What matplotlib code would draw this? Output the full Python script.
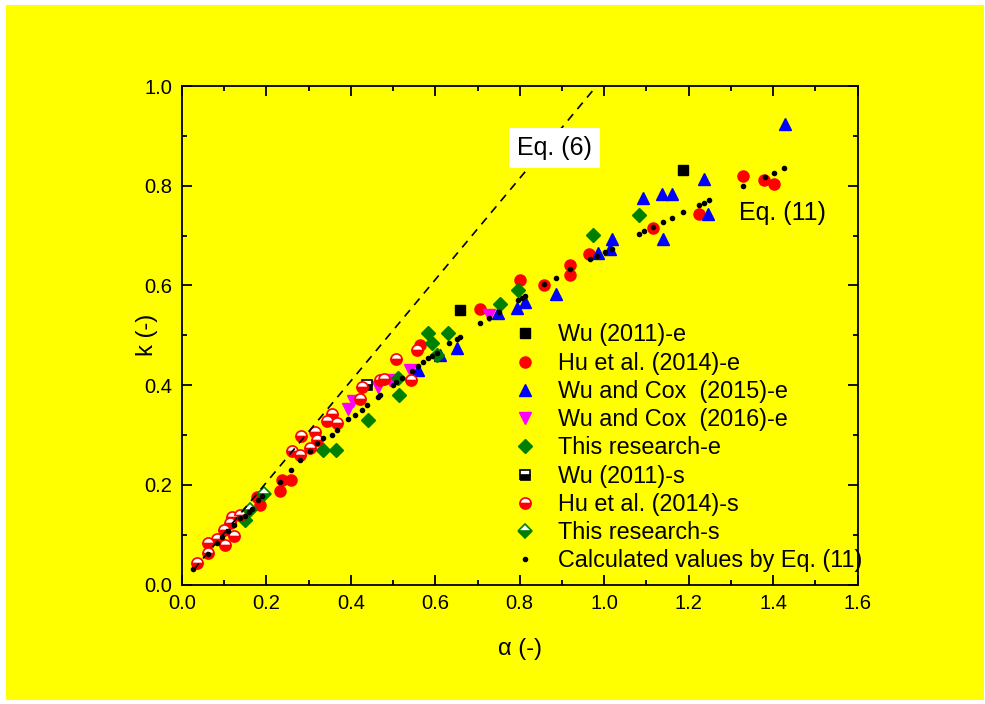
import matplotlib
matplotlib.use("Agg")
import matplotlib.pyplot as plt
from matplotlib.patches import Rectangle

plt.rcParams['font.family'] = ['Liberation Sans', 'DejaVu Sans']

# ---- data ----
wu_e_x = [0.658, 1.187]
wu_e_y = [0.551, 0.831]

hu_e_x = [0.177, 0.185, 0.232, 0.236, 0.258, 0.564, 0.707, 0.800, 0.858, 0.919, 0.919,
          0.965, 1.115, 1.225, 1.328, 1.379, 1.402]
hu_e_y = [0.176, 0.159, 0.187, 0.210, 0.210, 0.480, 0.552, 0.611, 0.601, 0.641, 0.621,
          0.663, 0.715, 0.743, 0.820, 0.811, 0.803]

wc15_x = [0.560, 0.610, 0.651, 0.749, 0.793, 0.812, 0.885, 0.986, 1.014, 1.019,
          1.093, 1.138, 1.160, 1.140, 1.236, 1.247, 1.428]
wc15_y = [0.430, 0.460, 0.474, 0.544, 0.554, 0.567, 0.583, 0.664, 0.674, 0.694,
          0.775, 0.783, 0.783, 0.693, 0.813, 0.743, 0.924]

wc16_x = [0.394, 0.404, 0.465, 0.493, 0.540, 0.726]
wc16_y = [0.352, 0.368, 0.397, 0.410, 0.430, 0.540]

tr_e_x = [0.149, 0.335, 0.365, 0.441, 0.515, 0.512, 0.583, 0.591, 0.603, 0.631,
          0.753, 0.797, 0.974, 1.082]
tr_e_y = [0.129, 0.270, 0.270, 0.330, 0.380, 0.414, 0.504, 0.484, 0.460, 0.504,
          0.563, 0.591, 0.701, 0.741]

wu_s_x = [0.438]
wu_s_y = [0.400]

hu_s_x = [0.035, 0.061, 0.062, 0.082, 0.102, 0.100, 0.122, 0.114, 0.118, 0.137,
          0.260, 0.283, 0.280, 0.303, 0.315, 0.319, 0.343, 0.355, 0.366, 0.422,
          0.426, 0.469, 0.478, 0.542, 0.506, 0.556]
hu_s_y = [0.044, 0.063, 0.083, 0.091, 0.079, 0.109, 0.097, 0.123, 0.136, 0.139,
          0.268, 0.298, 0.260, 0.273, 0.305, 0.290, 0.327, 0.343, 0.323, 0.373,
          0.397, 0.410, 0.413, 0.410, 0.452, 0.470]

tr_s_x = [0.161, 0.194]
tr_s_y = [0.149, 0.182]

calc_x = [0.027, 0.061, 0.082, 0.095, 0.108, 0.122, 0.137, 0.149, 0.159, 0.165,
          0.181, 0.190, 0.232, 0.258, 0.279, 0.303, 0.319, 0.335, 0.355, 0.366,
          0.394, 0.410, 0.426, 0.439, 0.465, 0.469, 0.500, 0.508, 0.520, 0.544,
          0.560, 0.572, 0.583, 0.591, 0.603, 0.633, 0.651, 0.658, 0.707, 0.726,
          0.752, 0.797, 0.805, 0.812, 0.858, 0.885, 0.919, 0.966, 0.982, 1.002,
          1.018, 1.083, 1.095, 1.115, 1.140, 1.160, 1.187, 1.225, 1.236, 1.248,
          1.328, 1.382, 1.402, 1.427]
calc_y = [0.032, 0.062, 0.083, 0.095, 0.107, 0.119, 0.133, 0.138, 0.146, 0.152,
          0.170, 0.178, 0.206, 0.230, 0.250, 0.268, 0.283, 0.293, 0.300, 0.310,
          0.331, 0.340, 0.351, 0.360, 0.377, 0.380, 0.400, 0.407, 0.414, 0.429,
          0.438, 0.447, 0.454, 0.458, 0.465, 0.484, 0.492, 0.497, 0.524, 0.534,
          0.547, 0.571, 0.574, 0.579, 0.602, 0.615, 0.632, 0.652, 0.659, 0.668,
          0.674, 0.704, 0.709, 0.717, 0.727, 0.736, 0.747, 0.761, 0.766, 0.771,
          0.799, 0.818, 0.826, 0.835]

eq6_x = [0.027, 0.982]
eq6_y = [0.029, 1.000]

x_ticks = [0.0, 0.2, 0.4, 0.6, 0.8, 1.0, 1.2, 1.4, 1.6]
y_ticks = [0.0, 0.2, 0.4, 0.6, 0.8, 1.0]

YELLOW = '#FFFF00'
RED = '#FF0000'
BLUE = '#0000FF'
MAG = '#FF00FF'
GREEN = '#008000'

fig = plt.figure(figsize=(9.85, 7.04), dpi=100)
fig.patch.set_facecolor('white')
fig.patches.append(Rectangle((6/985, 4/704), 978/985, 695/704, transform=fig.transFigure,
                             facecolor=YELLOW, edgecolor='none', zorder=-10))

ax = fig.add_axes([182/985, 1 - 584.5/704, 675.5/985, 498.5/704])
ax.set_facecolor(YELLOW)

ms_c = 8.0
ax.plot(wu_e_x, wu_e_y, ls='none', marker='s', ms=7.0, mfc='black', mec='black',
        label='Wu (2011)-e', zorder=3)
ax.plot(hu_e_x, hu_e_y, ls='none', marker='o', ms=ms_c, mfc=RED, mec=RED,
        label='Hu et al. (2014)-e', zorder=3)
ax.plot(wc15_x, wc15_y, ls='none', marker='^', ms=9.0, mfc=BLUE, mec=BLUE,
        label='Wu and Cox  (2015)-e', zorder=3)
ax.plot(wc16_x, wc16_y, ls='none', marker='v', ms=9.0, mfc=MAG, mec=MAG,
        label='Wu and Cox  (2016)-e', zorder=3)
ax.plot(tr_e_x, tr_e_y, ls='none', marker='D', ms=7.5, mfc=GREEN, mec=GREEN,
        label='This research-e', zorder=3)
ax.plot(wu_s_x, wu_s_y, ls='none', marker='s', ms=7.0, mfc='black', mec='black',
        fillstyle='bottom', markerfacecoloralt='white', mew=1.2,
        label='Wu (2011)-s', zorder=3)
ax.plot(hu_s_x, hu_s_y, ls='none', marker='o', ms=ms_c, mfc=RED, mec=RED,
        fillstyle='bottom', markerfacecoloralt='white', mew=1.2,
        label='Hu et al. (2014)-s', zorder=3)
ax.plot(tr_s_x, tr_s_y, ls='none', marker='D', ms=7.5, mfc=GREEN, mec=GREEN,
        fillstyle='bottom', markerfacecoloralt='white', mew=1.2,
        label='This research-s', zorder=3)
ax.plot(calc_x, calc_y, ls='none', marker='o', ms=3.0, mfc='black', mec='black',
        label='Calculated values by Eq. (11)', zorder=4)

ax.plot(eq6_x, eq6_y, color='black', lw=1.2, ls=(0, (5, 4)), zorder=5)

ax.text(0.883, 0.876, 'Eq. (6)', fontsize=18, ha='center', va='center', zorder=6,
        bbox=dict(facecolor='white', edgecolor='none', pad=6))
ax.text(1.422, 0.745, 'Eq. (11)', fontsize=18, ha='center', va='center', zorder=6)

ax.set_xlim(0, 1.6)
ax.set_ylim(0, 1.0)
ax.set_xticks(x_ticks)
ax.set_yticks(y_ticks)
ax.set_xticklabels([f'{v:.1f}' for v in x_ticks])
ax.set_yticklabels([f'{v:.1f}' for v in y_ticks])
ax.set_xticks([0.1, 0.3, 0.5, 0.7, 0.9, 1.1, 1.3, 1.5], minor=True)
ax.set_yticks([0.1, 0.3, 0.5, 0.7, 0.9], minor=True)
ax.tick_params(which='both', direction='in', top=True, right=True, width=1.3,
               labelsize=14.5, pad=7)
ax.tick_params(which='major', length=7)
ax.tick_params(which='minor', length=3.6)
for s in ax.spines.values():
    s.set_linewidth(1.3)

ax.set_xlabel('α (-)', fontsize=17, va='center', ha='center')
ax.set_ylabel('k (-)', fontsize=17, va='center', ha='center')
ax.xaxis.set_label_coords(0.5, (584.5 - 649) / 498.5)
ax.yaxis.set_label_coords((147 - 182) / 675.5, (584.5 - 335) / 498.5)

leg = ax.legend(loc='upper left', bbox_to_anchor=(0.4908, 0.5236), frameon=False,
                fontsize=16.8, handlelength=1.0, handletextpad=0.92, borderpad=0,
                borderaxespad=0, labelspacing=0.225, numpoints=1)

fig.savefig('out.png', dpi=100, facecolor=fig.get_facecolor())
